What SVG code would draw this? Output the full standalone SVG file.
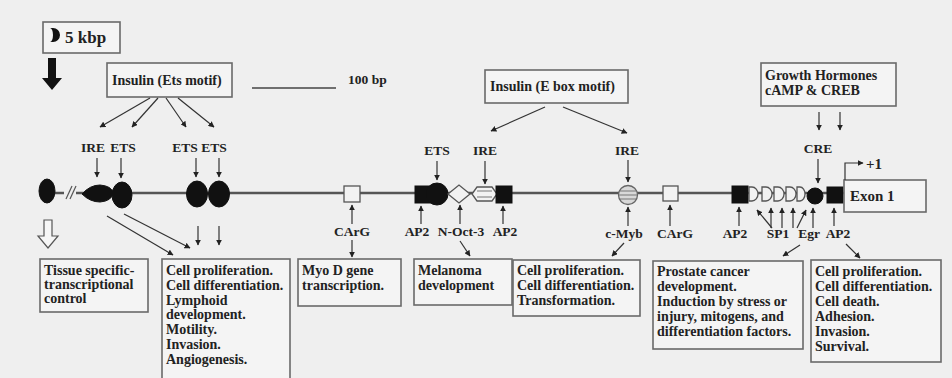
<svg xmlns="http://www.w3.org/2000/svg" width="952" height="378" viewBox="0 0 952 378">
<defs>
<marker id="ah" viewBox="0 0 10 10" refX="9" refY="5" markerWidth="5" markerHeight="5" orient="auto"><path d="M0,0 L10,5 L0,10 z" fill="#222"/></marker>
<style>
text{font-family:"Liberation Serif","DejaVu Serif",serif;font-weight:bold;fill:#222}
.box{fill:#f4f4f4;stroke:#6a6a6a;stroke-width:1.6}
.bt{font-size:14px}
.lb{font-size:13.5px;text-anchor:middle}
.c{stroke:#333;stroke-width:1.2;fill:none;marker-end:url(#ah)}
.blk{fill:#111;stroke:#111}
.open{fill:#f2f2f2;stroke:#555;stroke-width:1.3}
</style>
</defs>
<rect width="952" height="378" fill="#efefef"/>

<g id="scale">
<rect class="box" x="43" y="22" width="77" height="31"/>
<path d="M50,28 h3 a7,7 0 0 1 0,14 h-3 a3,7 0 0 0 0,-14 z" fill="#111"/>
<text x="65" y="43" font-size="17">5 kbp</text>
<path d="M48,58 h8 v20 h6 l-10,12 l-10,-12 h6 z" fill="#111"/>
<line x1="252" y1="88" x2="336" y2="88" stroke="#444" stroke-width="1.3"/>
<text x="348" y="84" font-size="13.5">100 bp</text>
</g>

<g id="insulin-ets"><rect class="box" x="107" y="63" width="125" height="34"/><text class="bt" x="112" y="85">Insulin (Ets motif)</text></g>
<g id="insulin-ebox"><rect class="box" x="485" y="70" width="143" height="33"/><text class="bt" x="490" y="91">Insulin (E box motif)</text></g>
<g id="growth"><rect class="box" x="761" y="63" width="135" height="43"/><text class="bt" x="765" y="80">Growth Hormones</text><text class="bt" x="765" y="95">cAMP &amp; CREB</text></g>

<g id="gene">
<line x1="40" y1="193" x2="845" y2="193" stroke="#555" stroke-width="2.5"/>
<ellipse class="blk" cx="47" cy="191" rx="8" ry="12"/>
<rect x="64" y="186" width="12" height="14" fill="#efefef"/>
<line x1="66" y1="199" x2="72" y2="186" stroke="#555" stroke-width="1.2"/>
<line x1="70" y1="199" x2="76" y2="186" stroke="#555" stroke-width="1.2"/>
<path class="blk" d="M82,194 Q90,185 100,185 Q112,186 113,193 Q112,201 100,202 Q90,202 82,194 z"/>
<ellipse class="blk" cx="122" cy="195" rx="10" ry="13"/>
<ellipse class="blk" cx="197" cy="194" rx="10.5" ry="13"/>
<ellipse class="blk" cx="219" cy="194" rx="10.5" ry="13"/>
<rect class="open" x="344" y="186" width="16" height="16"/>
<rect class="blk" x="415" y="186" width="17" height="17"/>
<circle class="blk" cx="437" cy="194" r="11"/>
<polygon class="open" points="448,194 459,185 470,194 459,203"/>
<polygon class="open" points="472,194 477,187 492,187 497,194 492,201 477,201"/>
<line x1="477" y1="191" x2="492" y2="191" stroke="#777"/>
<line x1="477" y1="197" x2="492" y2="197" stroke="#777"/>
<rect class="blk" x="496" y="186" width="16" height="17"/>
<circle cx="628" cy="195" r="9.5" fill="#d8d8d8" stroke="#666" stroke-width="1.3"/>
<line x1="620" y1="191" x2="636" y2="191" stroke="#777"/>
<line x1="619" y1="195" x2="637" y2="195" stroke="#777"/>
<line x1="620" y1="199" x2="636" y2="199" stroke="#777"/>
<rect class="open" x="663" y="186" width="15" height="15"/>
<rect class="blk" x="732" y="186" width="16" height="17"/>
<path class="open" d="M749,187 h3 a6,7 0 0 1 0,14 h-3 z"/>
<path class="open" d="M762,187 h4 a6,7 0 0 1 0,14 h-4 z"/>
<path class="open" d="M774,187 h4 a6,7 0 0 1 0,14 h-4 z"/>
<path class="open" d="M786,187 h4 a6,7 0 0 1 0,14 h-4 z"/>
<path class="open" d="M797,187 h3 a5,7 0 0 1 0,14 h-3 z"/>
<circle class="blk" cx="815" cy="196" r="8"/>
<rect class="blk" x="827" y="187" width="16" height="16"/>
<path d="M44,220 h8 v16 h6 l-10,12 l-10,-12 h6 z" fill="#f6f6f6" stroke="#555" stroke-width="1.2"/>
</g>

<g id="exon1"><rect class="box" x="844" y="180" width="82" height="32"/><text x="850" y="201" font-size="15">Exon 1</text></g>
<g id="tss"><polyline class="c" points="845,180 845,163 863,163"/><text x="866" y="169" font-size="15">+1</text></g>

<g id="labels-top">
<text class="lb" x="93" y="152">IRE</text>
<text class="lb" x="123" y="152">ETS</text>
<text class="lb" x="185" y="152">ETS</text>
<text class="lb" x="214" y="152">ETS</text>
<text class="lb" x="437" y="155">ETS</text>
<text class="lb" x="485" y="155">IRE</text>
<text class="lb" x="627" y="155">IRE</text>
<text class="lb" x="818" y="153">CRE</text>
</g>
<g id="labels-bottom">
<text class="lb" x="352" y="236">CArG</text>
<text class="lb" x="417" y="236">AP2</text>
<text class="lb" x="461" y="236">N-Oct-3</text>
<text class="lb" x="505" y="236">AP2</text>
<text class="lb" x="624" y="238">c-Myb</text>
<text class="lb" x="675" y="238">CArG</text>
<text class="lb" x="735" y="238">AP2</text>
<text class="lb" x="778" y="238">SP1</text>
<text class="lb" x="809" y="238">Egr</text>
<text class="lb" x="838" y="238">AP2</text>
</g>

<g id="connectors">
<line class="c" x1="150" y1="98" x2="100" y2="127"/>
<line class="c" x1="158" y1="98" x2="132" y2="127"/>
<line class="c" x1="166" y1="98" x2="186" y2="127"/>
<line class="c" x1="178" y1="98" x2="214" y2="127"/>
<line class="c" x1="545" y1="107" x2="491" y2="131"/>
<line class="c" x1="563" y1="107" x2="627" y2="133"/>
<line class="c" x1="819" y1="112" x2="819" y2="130"/>
<line class="c" x1="840" y1="112" x2="840" y2="130"/>
<line class="c" x1="97" y1="158" x2="97" y2="177"/>
<line class="c" x1="121" y1="158" x2="121" y2="178"/>
<line class="c" x1="196" y1="158" x2="196" y2="177"/>
<line class="c" x1="219" y1="158" x2="219" y2="177"/>
<line class="c" x1="437" y1="161" x2="437" y2="180"/>
<line class="c" x1="485" y1="161" x2="485" y2="184"/>
<line class="c" x1="628" y1="160" x2="628" y2="182"/>
<line class="c" x1="818" y1="159" x2="818" y2="183"/>
<line class="c" x1="352" y1="224" x2="352" y2="205"/>
<line class="c" x1="421" y1="224" x2="421" y2="206"/>
<line class="c" x1="460" y1="224" x2="460" y2="205"/>
<line class="c" x1="503" y1="224" x2="503" y2="206"/>
<line class="c" x1="628" y1="226" x2="628" y2="207"/>
<line class="c" x1="670" y1="226" x2="670" y2="205"/>
<line class="c" x1="739" y1="226" x2="739" y2="207"/>
<line class="c" x1="772" y1="228" x2="757" y2="210"/>
<line class="c" x1="771" y1="228" x2="771" y2="208"/>
<line class="c" x1="782" y1="228" x2="782" y2="208"/>
<line class="c" x1="793" y1="228" x2="793" y2="208"/>
<line class="c" x1="797" y1="228" x2="806" y2="210"/>
<line class="c" x1="813" y1="228" x2="813" y2="208"/>
<line class="c" x1="834" y1="226" x2="834" y2="208"/>
<line class="c" x1="107" y1="216" x2="173" y2="255"/>
<line class="c" x1="124" y1="214" x2="190" y2="248"/>
<line class="c" x1="198" y1="226" x2="198" y2="245"/>
<line class="c" x1="219" y1="226" x2="219" y2="245"/>
<line class="c" x1="352" y1="240" x2="352" y2="257"/>
<line class="c" x1="460" y1="241" x2="470" y2="256"/>
<line class="c" x1="624" y1="243" x2="612" y2="256"/>
<line class="c" x1="800" y1="245" x2="783" y2="256"/>
<line class="c" x1="846" y1="244" x2="860" y2="258"/>
</g>

<g id="box-tissue"><rect class="box" x="40" y="259" width="108" height="53"/>
<text class="bt" x="44" y="275">Tissue specific-</text><text class="bt" x="44" y="289">transcriptional</text><text class="bt" x="44" y="303">control</text></g>
<g id="box-ets"><rect class="box" x="162" y="259" width="128" height="125"/>
<text class="bt" x="166" y="275">Cell proliferation.</text><text class="bt" x="166" y="290">Cell differentiation.</text><text class="bt" x="166" y="305">Lymphoid</text><text class="bt" x="166" y="319">development.</text><text class="bt" x="166" y="334">Motility.</text><text class="bt" x="166" y="349">Invasion.</text><text class="bt" x="166" y="364">Angiogenesis.</text></g>
<g id="box-myod"><rect class="box" x="298" y="259" width="103" height="47"/>
<text class="bt" x="302" y="275">Myo D gene</text><text class="bt" x="302" y="290">transcription.</text></g>
<g id="box-melanoma"><rect class="box" x="414" y="259" width="98" height="46"/>
<text class="bt" x="418" y="275">Melanoma</text><text class="bt" x="418" y="290">development</text></g>
<g id="box-myb"><rect class="box" x="513" y="260" width="127" height="56"/>
<text class="bt" x="517" y="275">Cell proliferation.</text><text class="bt" x="517" y="290">Cell differentiation.</text><text class="bt" x="517" y="305">Transformation.</text></g>
<g id="box-prostate"><rect class="box" x="653" y="261" width="150" height="88"/>
<text class="bt" x="657" y="276">Prostate cancer</text><text class="bt" x="657" y="291">development.</text><text class="bt" x="657" y="306">Induction by stress or</text><text class="bt" x="657" y="321">injury, mitogens, and</text><text class="bt" x="657" y="336">differentiation factors.</text></g>
<g id="box-ap2"><rect class="box" x="811" y="260" width="130" height="102"/>
<text class="bt" x="815" y="276">Cell proliferation.</text><text class="bt" x="815" y="291">Cell differentiation.</text><text class="bt" x="815" y="306">Cell death.</text><text class="bt" x="815" y="321">Adhesion.</text><text class="bt" x="815" y="336">Invasion.</text><text class="bt" x="815" y="351">Survival.</text></g>
</svg>
